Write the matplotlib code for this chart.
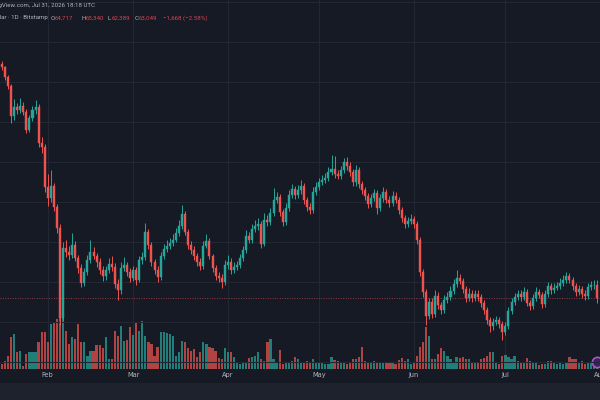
import numpy as np
import pandas as pd
import matplotlib
matplotlib.use("Agg")
import matplotlib.pyplot as plt
from matplotlib.patches import Rectangle

BG = '#161a25'
BOTTOM_BG = '#1e222d'
GRID = '#232734'
UP = '#26a69a'
DOWN = '#ef5350'
TEXT = '#b2b5be'
HEAD_FONT = 'Roboto'

# BTC/USD daily, Bitstamp, Jan 17 - Jul 31 2026
first_open = 92300
closes = [
    91925, 90675, 89550, 85800, 86925, 86550, 87050, 86300, 84050, 85550,
    86550, 86925, 82425, 81925, 76925, 75550, 77050, 74425, 71800, 60550,
    69300, 68800, 68425, 69675, 68050, 66800, 64925, 66300, 67800, 68800,
    68300, 67550, 66550, 65800, 66550, 67300, 66925, 64800, 64050, 66800,
    67175, 66300, 65550, 66550, 65300, 67800, 68175, 71300, 69675, 67550,
    66550, 65675, 68300, 69175, 69550, 69925, 70300, 71175, 72050, 73550,
    71300, 69675, 69050, 68300, 67550, 67050, 69550, 70175, 68300, 66800,
    65800, 65550, 65050, 67175, 67550, 66550, 66925, 67175, 68050, 69050,
    70800, 70300, 71675, 72050, 72300, 69800, 72800, 72550, 73675, 75300,
    75675, 73800, 72550, 74300, 75925, 76675, 75925, 76550, 77050, 75300,
    74425, 74050, 76300, 76925, 77550, 77800, 78050, 78800, 79175, 78550,
    78300, 79050, 80050, 79550, 78800, 77550, 79050, 77300, 76550, 75800,
    74800, 75550, 76175, 74300, 75550, 76300, 75300, 74925, 75800, 75300,
    74050, 73050, 72300, 72675, 72925, 72300, 70300, 66300, 63800, 60800,
    62550, 61050, 63300, 62175, 61550, 62800, 63175, 63925, 64800, 65550,
    65175, 64175, 63050, 63550, 63050, 63550, 63175, 62425, 61550, 60300,
    59550, 60050, 60300, 59800, 58800, 59550, 61425, 62550, 63175, 63550,
    63175, 63800, 62425, 62050, 63050, 63800, 63425, 62300, 63550, 64550,
    64050, 64300, 64550, 64925, 65300, 65800, 65300, 64550, 63800, 64175,
    63550, 63300, 64425, 64675, 64717, 63049,
]
highs = [
    92700, 92100, 90900, 89800, 87950, 87400, 88050, 87500, 86700, 85900,
    87000, 87800, 87300, 83200, 82300, 78500, 79000, 77400, 74800, 72300,
    70000, 70300, 69500, 71200, 70200, 68400, 67300, 66800, 68400, 70300,
    69400, 68700, 68000, 67000, 67100, 68000, 68300, 67400, 65400, 67600,
    68200, 67600, 66800, 67100, 66900, 68300, 68800, 72400, 71700, 70000,
    67900, 67000, 68800, 69800, 70300, 70600, 71000, 71800, 72800, 74700,
    73900, 71700, 70200, 69500, 68700, 68100, 70200, 71000, 70500, 68600,
    67200, 66300, 66000, 67800, 68400, 68000, 67600, 67700, 68600, 69600,
    71500, 71300, 72300, 72800, 73000, 72700, 73700, 73400, 74300, 76800,
    76300, 76000, 74200, 74900, 76500, 77300, 77000, 77200, 77800, 77400,
    75700, 74900, 76900, 77500, 78100, 78400, 78700, 79400, 80900, 80800,
    79000, 79600, 80600, 80700, 80000, 79200, 79700, 79400, 77700, 76900,
    76200, 76100, 76700, 76500, 76100, 76900, 76700, 75800, 76400, 76300,
    75700, 74400, 73400, 73200, 73500, 73300, 72700, 70700, 66700, 64200,
    63100, 63000, 64000, 63800, 62600, 63400, 63800, 64500, 65400, 66600,
    66100, 65600, 64600, 64300, 64000, 64100, 64000, 63600, 62800, 61900,
    60700, 60600, 60800, 60700, 60200, 60000, 61900, 63000, 63700, 64100,
    64000, 64400, 64200, 62800, 63600, 64400, 64200, 63800, 64100, 65100,
    64900, 64900, 65100, 65500, 65900, 66300, 66200, 65700, 64900, 64700,
    64600, 64000, 64900, 65200, 65300, 65340,
]
lows = [
    91500, 90300, 89200, 84900, 85300, 86000, 86200, 85900, 83650, 83800,
    85200, 86100, 81900, 81200, 76300, 74500, 75000, 73900, 71200, 59700,
    60200, 68200, 67800, 68000, 67700, 66200, 64400, 64600, 65900, 67400,
    67900, 66900, 66100, 65200, 65300, 66200, 66400, 64300, 62800, 63600,
    66400, 65800, 65000, 65200, 64700, 65000, 67300, 67800, 69200, 67000,
    66000, 65100, 65300, 67900, 68800, 69200, 69500, 70000, 70800, 71700,
    70900, 69200, 68600, 67800, 67100, 66500, 66700, 69300, 67900, 66300,
    65300, 65000, 64300, 64700, 66700, 66100, 66200, 66500, 66800, 67700,
    68700, 69900, 69900, 71300, 71600, 69300, 69500, 72000, 72200, 73300,
    74900, 73300, 72000, 72200, 73900, 75500, 75400, 75500, 76100, 74800,
    73900, 73500, 73700, 75900, 76500, 77200, 77400, 77700, 78400, 78100,
    77900, 77900, 78700, 79100, 78300, 77000, 77100, 76800, 76000, 75300,
    74300, 74400, 75200, 73600, 73900, 75100, 74900, 74400, 74500, 74900,
    73600, 72600, 71800, 71900, 72300, 71800, 69800, 65800, 63200, 59700,
    60400, 60600, 60700, 61700, 61000, 61200, 62400, 62800, 63500, 64400,
    64800, 63700, 62500, 62700, 62600, 62700, 62700, 61900, 61000, 59800,
    58800, 59100, 59700, 59300, 57800, 58400, 59200, 61100, 62200, 62800,
    62700, 62800, 62000, 61500, 61700, 62700, 63000, 61800, 61900, 63200,
    63600, 63700, 64000, 64200, 64600, 64900, 64900, 64100, 63300, 63400,
    63100, 62800, 62900, 64100, 64200, 62389,
]
volumes = [
    500, 800, 1300, 3200, 3500, 1700, 1800, 300, 1500, 1700,
    1700, 1700, 2700, 3700, 3700, 2700, 4500, 4700, 5000, 7000,
    6200, 3800, 2500, 3200, 3000, 4500, 2700, 2700, 1300, 1800,
    1800, 2400, 2400, 2100, 3200, 1000, 1000, 3800, 3300, 4300,
    2800, 2900, 4200, 3400, 4700, 3800, 4800, 3300, 2700, 2500,
    1300, 2200, 3700, 3700, 3600, 3500, 3300, 1300, 1700, 2800,
    2700, 2100, 1800, 2000, 1200, 1700, 2700, 2500, 2200, 2100,
    1800, 1100, 1000, 2100, 1700, 1700, 1200, 700, 500, 700,
    700, 1100, 1200, 1300, 1700, 1000, 800, 2700, 3000, 1000,
    700, 1900, 500, 700, 700, 800, 1200, 1000,
    700, 700, 800, 700, 1000, 700, 700, 600, 500, 500,
    1200, 900, 800, 700, 600, 500, 700, 1000, 1000, 1200,
    2200, 800, 600, 600, 800, 600, 700, 700, 600, 700,
    700, 500, 900, 1100, 800, 1000, 500, 700, 1300, 2200,
    2700, 4200, 3300, 1000, 1000, 1500, 2100, 1800, 1300, 1000,
    700, 1200, 1100, 1200, 1000, 1000, 700, 700, 600, 1000,
    1100, 1300, 1700, 1700, 700, 500, 1300, 1400, 1200, 1000,
    1300, 800, 700, 700, 1100, 800, 700, 700, 400, 500,
    500, 800, 800, 700, 500, 600, 500, 700, 1200, 1000,
    1000, 700, 800, 500, 600, 700, 1000, 500,
]

opens = [first_open] + closes[:-1]
dates = pd.date_range('2026-01-17', periods=len(closes), freq='D')
idx = np.arange(len(closes))
o = np.array(opens)
c = np.array(closes)
up = c >= o
colors = np.where(up, UP, DOWN)

fig = plt.figure(figsize=(6, 4), dpi=100, facecolor=BG)
fig.patches.append(Rectangle((0, 0), 1, 17 / 400, transform=fig.transFigure,
                             facecolor=BOTTOM_BG, edgecolor='none', zorder=0))

ax_vol = fig.add_axes([0, 31 / 400, 1, 369 / 400])
ax = ax_vol.twinx()
ax_vol.set_facecolor(BG)
ax.patch.set_visible(False)

# volume underneath
ax_vol.bar(idx, volumes, width=0.72, color=colors, alpha=0.72, linewidth=0)
ax_vol.set_ylim(0, 36900)
ax_vol.scatter([idx[-1]], [700], s=55, facecolor='#3b2357', edgecolor='#a05ad0',
               linewidth=1.2, zorder=5, clip_on=False)

# grid
month_pos = [i for i, d in enumerate(dates) if d.day == 1] + [len(dates)]
month_lbl = [d.strftime('%b') for d in dates if d.day == 1] + ['Aug']
for p in month_pos:
    ax_vol.axvline(p, color=GRID, linewidth=0.8, zorder=0)
for lvl in range(55000, 100001, 5000):
    ax.axhline(lvl, color=GRID, linewidth=0.8, zorder=0)

# candles
ax.vlines(idx, lows, highs, colors=colors, linewidth=0.7, zorder=2)
ax.bar(idx, c - o, bottom=o, width=0.66, color=colors, edgecolor=colors,
       linewidth=0.3, zorder=3)
ax.axhline(closes[-1], color='#b0454e', linewidth=0.7, linestyle=(0, (1, 1.5)),
           alpha=0.8, zorder=1)
ax.set_ylim(54175, 100300)
ax.set_xlim(-0.65, 195.75)

ax.set_yticks([])
ax_vol.set_yticks([])
ax_vol.set_xticks(month_pos)
ax_vol.set_xticklabels(month_lbl)
ax_vol.tick_params(axis='x', length=0, pad=2.5, labelsize=4.8, colors=TEXT)
for a in (ax, ax_vol):
    for s in a.spines.values():
        s.set_visible(False)

# header (cropped on the left like the screenshot)
head = dict(va='center', fontsize=4.4, family=HEAD_FONT)
fig.text(95 / 600, 1 - 6 / 400, 'TradingView.com, Jul 31, 2026 18:18 UTC',
         ha='right', color=TEXT, **head)
fig.text(48 / 600, 1 - 18 / 400, 'Bitcoin / U.S. Dollar · 1D · Bitstamp',
         ha='right', color=TEXT, **head)
ohlc = [('O', '64,717', 51), ('H', '65,340', 82), ('L', '62,389', 108),
        ('C', '63,049', 135)]
for lab, val, px in ohlc:
    fig.text(px / 600, 1 - 18 / 400, lab, ha='left', color=TEXT, **head)
    fig.text((px + 4) / 600, 1 - 18 / 400, val, ha='left', color='#d9434f', **head)
fig.text(163 / 600, 1 - 18 / 400, '−1,668 (−2.58%)', ha='left',
         color='#d9434f', **head)

fig.savefig('out.png', dpi=100, facecolor=BG)
